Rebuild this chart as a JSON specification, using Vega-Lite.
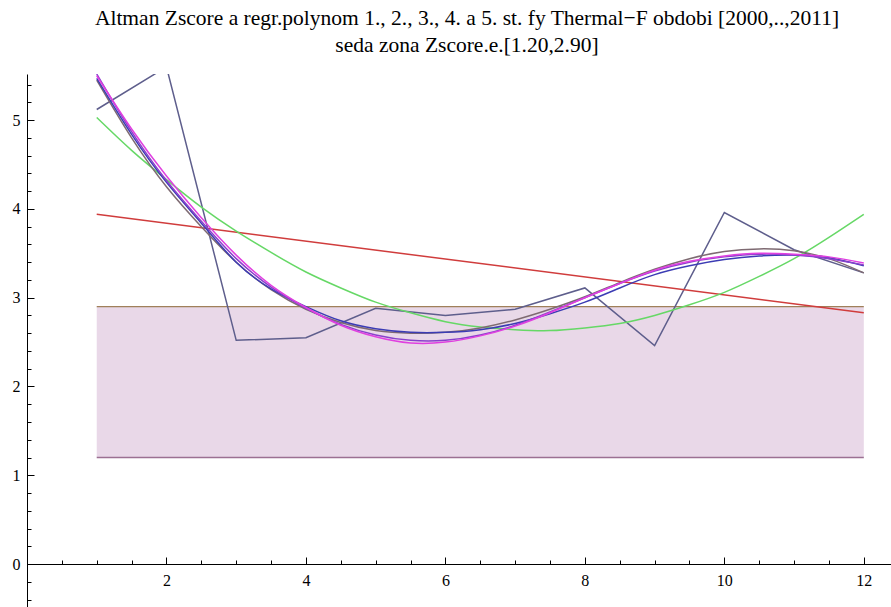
{
  "$schema": "https://vega.github.io/schema/vega-lite/v6.json",
  "autosize": "none",
  "width": 864,
  "height": 533,
  "padding": {"left": 27, "top": 74, "right": 0, "bottom": 0},
  "background": "white",
  "config": {
    "view": {"stroke": null},
    "axis": {
      "labelFont": "Liberation Serif",
      "labelColor": "black",
      "domainColor": "black",
      "tickColor": "black",
      "grid": false,
      "title": null
    }
  },
  "title": {
    "text": ["Altman Zscore a regr.polynom 1., 2., 3., 4. a 5. st. fy Thermal\u2212F obdobi [2000,..,2011]", "seda zona Zscore.e.[1.20,2.90]"],
    "font": "Liberation Serif",
    "fontSize": 21.5,
    "fontWeight": "normal",
    "color": "black",
    "lineHeight": 27,
    "anchor": "middle",
    "offset": 18,
    "dx": 8
  },
  "datasets": {
    "band": [{"x": 1, "x2": 12, "lo": 1.2, "hi": 2.9}],
    "edges": [
      {"x": 1, "x2": 12, "y": 2.9, "edge": "upper"},
      {"x": 1, "x2": 12, "y": 1.2, "edge": "lower"}
    ],
    "lines": [
      {"x": 1, "y": 5.12, "s": "Zscore"}, {"x": 2, "y": 5.6, "s": "Zscore"}, {"x": 3, "y": 2.52, "s": "Zscore"}, {"x": 4, "y": 2.55, "s": "Zscore"}, {"x": 5, "y": 2.88, "s": "Zscore"}, {"x": 6, "y": 2.8, "s": "Zscore"}, {"x": 7, "y": 2.87, "s": "Zscore"}, {"x": 8, "y": 3.11, "s": "Zscore"}, {"x": 9, "y": 2.46, "s": "Zscore"}, {"x": 10, "y": 3.96, "s": "Zscore"}, {"x": 11, "y": 3.54, "s": "Zscore"}, {"x": 12, "y": 3.28, "s": "Zscore"},
      {"x": 1, "y": 3.94, "s": "st1"}, {"x": 12, "y": 2.83, "s": "st1"},
      {"x": 1, "y": 5.03, "s": "st2"}, {"x": 1.5, "y": 4.66, "s": "st2"}, {"x": 2, "y": 4.33, "s": "st2"}, {"x": 2.5, "y": 4.02, "s": "st2"}, {"x": 3, "y": 3.75, "s": "st2"}, {"x": 3.5, "y": 3.51, "s": "st2"}, {"x": 4, "y": 3.29, "s": "st2"}, {"x": 4.5, "y": 3.11, "s": "st2"}, {"x": 5, "y": 2.95, "s": "st2"}, {"x": 5.5, "y": 2.83, "s": "st2"}, {"x": 6, "y": 2.73, "s": "st2"}, {"x": 6.5, "y": 2.67, "s": "st2"}, {"x": 7, "y": 2.64, "s": "st2"}, {"x": 7.5, "y": 2.63, "s": "st2"}, {"x": 8, "y": 2.66, "s": "st2"}, {"x": 8.5, "y": 2.71, "s": "st2"}, {"x": 9, "y": 2.8, "s": "st2"}, {"x": 9.5, "y": 2.92, "s": "st2"}, {"x": 10, "y": 3.06, "s": "st2"}, {"x": 10.5, "y": 3.24, "s": "st2"}, {"x": 11, "y": 3.44, "s": "st2"}, {"x": 11.5, "y": 3.68, "s": "st2"}, {"x": 12, "y": 3.94, "s": "st2"},
      {"x": 1, "y": 5.45, "s": "st3"}, {"x": 1.5, "y": 4.8, "s": "st3"}, {"x": 2, "y": 4.25, "s": "st3"}, {"x": 2.5, "y": 3.8, "s": "st3"}, {"x": 3, "y": 3.4, "s": "st3"}, {"x": 3.5, "y": 3.09, "s": "st3"}, {"x": 4, "y": 2.87, "s": "st3"}, {"x": 4.5, "y": 2.72, "s": "st3"}, {"x": 5, "y": 2.63, "s": "st3"}, {"x": 5.5, "y": 2.6, "s": "st3"}, {"x": 6, "y": 2.61, "s": "st3"}, {"x": 6.5, "y": 2.66, "s": "st3"}, {"x": 7, "y": 2.75, "s": "st3"}, {"x": 7.5, "y": 2.87, "s": "st3"}, {"x": 8, "y": 3.01, "s": "st3"}, {"x": 8.5, "y": 3.17, "s": "st3"}, {"x": 9, "y": 3.32, "s": "st3"}, {"x": 9.5, "y": 3.44, "s": "st3"}, {"x": 10, "y": 3.52, "s": "st3"}, {"x": 10.5, "y": 3.55, "s": "st3"}, {"x": 11, "y": 3.53, "s": "st3"}, {"x": 11.5, "y": 3.44, "s": "st3"}, {"x": 12, "y": 3.28, "s": "st3"},
      {"x": 1, "y": 5.47, "s": "st4"}, {"x": 1.5, "y": 4.84, "s": "st4"}, {"x": 2, "y": 4.3, "s": "st4"}, {"x": 2.5, "y": 3.84, "s": "st4"}, {"x": 3, "y": 3.4, "s": "st4"}, {"x": 3.5, "y": 3.1, "s": "st4"}, {"x": 4, "y": 2.9, "s": "st4"}, {"x": 4.5, "y": 2.74, "s": "st4"}, {"x": 5, "y": 2.65, "s": "st4"}, {"x": 5.5, "y": 2.61, "s": "st4"}, {"x": 6, "y": 2.61, "s": "st4"}, {"x": 6.5, "y": 2.64, "s": "st4"}, {"x": 7, "y": 2.71, "s": "st4"}, {"x": 7.5, "y": 2.82, "s": "st4"}, {"x": 8, "y": 2.95, "s": "st4"}, {"x": 8.5, "y": 3.11, "s": "st4"}, {"x": 9, "y": 3.26, "s": "st4"}, {"x": 9.5, "y": 3.36, "s": "st4"}, {"x": 10, "y": 3.43, "s": "st4"}, {"x": 10.5, "y": 3.47, "s": "st4"}, {"x": 11, "y": 3.48, "s": "st4"}, {"x": 11.5, "y": 3.45, "s": "st4"}, {"x": 12, "y": 3.36, "s": "st4"},
      {"x": 1, "y": 5.52, "s": "st5"}, {"x": 1.5, "y": 4.87, "s": "st5"}, {"x": 2, "y": 4.32, "s": "st5"}, {"x": 2.5, "y": 3.86, "s": "st5"}, {"x": 3, "y": 3.44, "s": "st5"}, {"x": 3.5, "y": 3.12, "s": "st5"}, {"x": 4, "y": 2.88, "s": "st5"}, {"x": 4.5, "y": 2.7, "s": "st5"}, {"x": 5, "y": 2.58, "s": "st5"}, {"x": 5.5, "y": 2.52, "s": "st5"}, {"x": 6, "y": 2.52, "s": "st5"}, {"x": 6.5, "y": 2.58, "s": "st5"}, {"x": 7, "y": 2.69, "s": "st5"}, {"x": 7.5, "y": 2.84, "s": "st5"}, {"x": 8, "y": 3.0, "s": "st5"}, {"x": 8.5, "y": 3.16, "s": "st5"}, {"x": 9, "y": 3.3, "s": "st5"}, {"x": 9.5, "y": 3.4, "s": "st5"}, {"x": 10, "y": 3.46, "s": "st5"}, {"x": 10.5, "y": 3.49, "s": "st5"}, {"x": 11, "y": 3.48, "s": "st5"}, {"x": 11.5, "y": 3.44, "s": "st5"}, {"x": 12, "y": 3.37, "s": "st5"},
      {"x": 1, "y": 5.5, "s": "st5b"}, {"x": 1.5, "y": 4.9, "s": "st5b"}, {"x": 2, "y": 4.37, "s": "st5b"}, {"x": 2.5, "y": 3.9, "s": "st5b"}, {"x": 3, "y": 3.48, "s": "st5b"}, {"x": 3.5, "y": 3.14, "s": "st5b"}, {"x": 4, "y": 2.89, "s": "st5b"}, {"x": 4.5, "y": 2.69, "s": "st5b"}, {"x": 5, "y": 2.56, "s": "st5b"}, {"x": 5.5, "y": 2.49, "s": "st5b"}, {"x": 6, "y": 2.5, "s": "st5b"}, {"x": 6.5, "y": 2.57, "s": "st5b"}, {"x": 7, "y": 2.68, "s": "st5b"}, {"x": 7.5, "y": 2.83, "s": "st5b"}, {"x": 8, "y": 3.0, "s": "st5b"}, {"x": 8.5, "y": 3.16, "s": "st5b"}, {"x": 9, "y": 3.31, "s": "st5b"}, {"x": 9.5, "y": 3.41, "s": "st5b"}, {"x": 10, "y": 3.47, "s": "st5b"}, {"x": 10.5, "y": 3.5, "s": "st5b"}, {"x": 11, "y": 3.49, "s": "st5b"}, {"x": 11.5, "y": 3.46, "s": "st5b"}, {"x": 12, "y": 3.39, "s": "st5b"}
    ]
  },
  "layer": [
    {
      "data": {"name": "band"},
      "mark": {"type": "rect", "color": "#e9d8e8", "clip": true},
      "encoding": {
        "x": {
          "field": "x", "type": "quantitative",
          "scale": {"domain": [0, 12.39], "nice": false, "zero": false},
          "axis": {
            "orient": "bottom",
            "offset": -43,
            "tickCount": 200,
            "values": [0.5, 1, 1.5, 2, 2.5, 3, 3.5, 4, 4.5, 5, 5.5, 6, 6.5, 7, 7.5, 8, 8.5, 9, 9.5, 10, 10.5, 11, 11.5, 12],
            "labelExpr": "datum.value % 2 == 0 ? '' + datum.value : ''",
            "labelFont": "Liberation Serif",
            "labelFontSize": 16,
            "tickSize": {"condition": {"test": "datum.value % 2 == 0", "value": -7}, "value": -4},
            "labelPadding": 15,
            "labelFlush": false,
            "labelOverlap": false
          }
        },
        "x2": {"field": "x2"},
        "y": {
          "field": "lo", "type": "quantitative",
          "scale": {"domain": [-0.484, 5.52], "nice": false, "zero": false},
          "axis": {
            "orient": "left",
            "tickCount": 200,
            "values": [-0.4, -0.2, 0, 0.2, 0.4, 0.6, 0.8, 1, 1.2, 1.4, 1.6, 1.8, 2, 2.2, 2.4, 2.6, 2.8, 3, 3.2, 3.4, 3.6, 3.8, 4, 4.2, 4.4, 4.6, 4.8, 5, 5.2, 5.4],
            "labelExpr": "datum.value % 1 == 0 ? '' + datum.value : ''",
            "labelFont": "Liberation Serif",
            "labelFontSize": 16,
            "tickSize": {"condition": {"test": "datum.value % 1 == 0", "value": -7}, "value": -4},
            "labelPadding": 14,
            "labelFlush": false,
            "labelOverlap": false
          }
        },
        "y2": {"field": "hi"}
      }
    },
    {
      "data": {"name": "edges"},
      "transform": [{"filter": "datum.edge == 'upper'"}],
      "mark": {"type": "rule", "color": "#a0805a", "strokeWidth": 1.3},
      "encoding": {
        "x": {"field": "x", "type": "quantitative"},
        "x2": {"field": "x2"},
        "y": {"field": "y", "type": "quantitative"}
      }
    },
    {
      "data": {"name": "edges"},
      "transform": [{"filter": "datum.edge == 'lower'"}],
      "mark": {"type": "rule", "color": "#9c7092", "strokeWidth": 1.3},
      "encoding": {
        "x": {"field": "x", "type": "quantitative"},
        "x2": {"field": "x2"},
        "y": {"field": "y", "type": "quantitative"}
      }
    },
    {
      "data": {"name": "lines"},
      "transform": [{"filter": "datum.s == 'Zscore' || datum.s == 'st1'"}],
      "mark": {"type": "line", "interpolate": "linear", "strokeWidth": 1.5, "clip": true},
      "encoding": {
        "x": {"field": "x", "type": "quantitative"},
        "y": {"field": "y", "type": "quantitative"},
        "color": {
          "field": "s", "type": "nominal", "legend": null,
          "scale": {
            "domain": ["Zscore", "st1", "st2", "st3", "st4", "st5", "st5b"],
            "range": ["#5e5e8c", "#d03c3c", "#66d866", "#7e6a72", "#3c3cb4", "#8a40cc", "#e040e0"]
          }
        }
      }
    },
    {
      "data": {"name": "lines"},
      "transform": [{"filter": "datum.s != 'Zscore' && datum.s != 'st1'"}],
      "mark": {"type": "line", "interpolate": "natural", "strokeWidth": 1.5, "clip": true},
      "encoding": {
        "x": {"field": "x", "type": "quantitative"},
        "y": {"field": "y", "type": "quantitative"},
        "color": {
          "field": "s", "type": "nominal", "legend": null,
          "scale": {
            "domain": ["Zscore", "st1", "st2", "st3", "st4", "st5", "st5b"],
            "range": ["#5e5e8c", "#d03c3c", "#66d866", "#7e6a72", "#3c3cb4", "#8a40cc", "#e040e0"]
          }
        }
      }
    }
  ]
}
